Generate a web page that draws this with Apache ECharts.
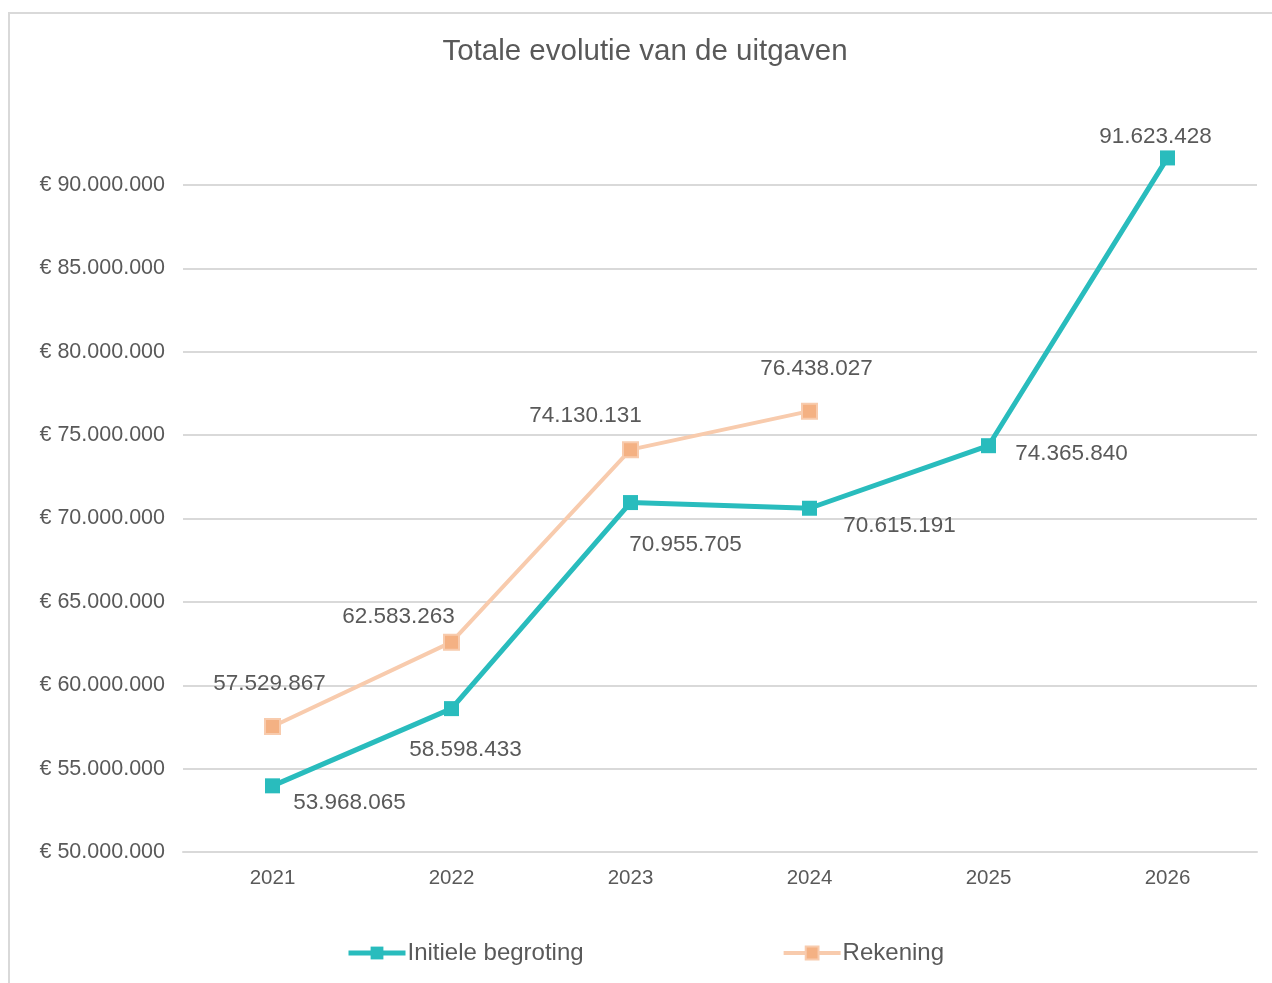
<!DOCTYPE html>
<html>
<head>
<meta charset="utf-8">
<script src="https://cdn.jsdelivr.net/npm/echarts@6/dist/echarts.min.js"></script>
<style>
  html, body { margin: 0; padding: 0; background: #fff; }
  #chart { width: 1272px; height: 983px; }
</style>
</head>
<body>
<div id="chart"></div>
<script>
// data
const years = ["2021", "2022", "2023", "2024", "2025", "2026"];
const initieleBegroting = [53968065, 58598433, 70955705, 70615191, 74365840, 91623428];
const rekening = [57529867, 62583263, 74130131, 76438027];
const yTicks = [50000000, 55000000, 60000000, 65000000, 70000000, 75000000, 80000000, 85000000, 90000000];

// label placement (pixels from the marker centre)
const tealOffsets = [[77, 17], [14, 41], [55, 42], [90, 18], [83, 8], [-12, -21]];
const peachOffsets = [[-3, -43], [-53, -25], [-45, -34], [7, -42]];

const fmt = v => Math.round(v).toString().replace(/\B(?=(\d{3})+(?!\d))/g, ".");

const TEAL = "#29bcbd";
const PEACH_LINE = "#f8cbad";
const PEACH_MARK = "#f4b183";
const TEXT = "#595959";
const FONT = "Liberation Sans, Arial, sans-serif";

function withLabels(values, offsets) {
  return values.map((v, i) => ({
    value: v,
    label: { offset: offsets[i] }
  }));
}

const chart = echarts.init(document.getElementById("chart"));
chart.setOption({
  animation: false,
  textStyle: { fontFamily: FONT },
  graphic: [{
    type: "rect",
    shape: { x: 9, y: 13, width: 1400, height: 1100 },
    style: { fill: null, stroke: "#d9d9d9", lineWidth: 2 },
    silent: true,
    z: -10
  }],
  title: {
    text: "Totale evolutie van de uitgaven",
    left: 640,
    textAlign: "center",
    top: 32,
    textStyle: { color: TEXT, fontSize: 29.5, fontWeight: "normal", fontFamily: FONT }
  },
  legend: {
    bottom: 18,
    left: 346,
    padding: 0,
    itemWidth: 57,
    itemHeight: 16,
    itemGap: 198,
    textStyle: { color: TEXT, fontSize: 24, fontFamily: FONT, padding: [0, 0, 0, -3] },
    data: [
      { name: "Initiele begroting", lineStyle: { width: 5, color: TEAL } },
      { name: "Rekening", lineStyle: { width: 4, color: PEACH_LINE } }
    ]
  },
  grid: { left: 183, right: 15, top: 185, bottom: 131, containLabel: false },
  xAxis: {
    type: "category",
    data: years,
    boundaryGap: true,
    axisLine: { show: true, lineStyle: { color: "#d9d9d9", width: 2 } },
    axisTick: { show: false },
    axisLabel: { color: TEXT, fontSize: 20.5, margin: 16 }
  },
  yAxis: {
    type: "value",
    min: yTicks[0],
    max: yTicks[yTicks.length - 1],
    interval: yTicks[1] - yTicks[0],
    axisLine: { show: false },
    axisTick: { show: false },
    axisLabel: { color: TEXT, fontSize: 21.5, margin: 18, formatter: v => "€ " + fmt(v) },
    splitLine: { lineStyle: { color: "#d9d9d9", width: 2 } }
  },
  series: [
    {
      name: "Initiele begroting",
      type: "line",
      data: withLabels(initieleBegroting, tealOffsets),
      clip: false,
      symbol: "rect",
      symbolSize: 15,
      lineStyle: { color: TEAL, width: 5 },
      itemStyle: { color: TEAL },
      label: {
        show: true,
        position: "inside",
        color: TEXT,
        fontSize: 22.5,
        formatter: p => fmt(p.value)
      },
      z: 3
    },
    {
      name: "Rekening",
      type: "line",
      data: withLabels(rekening, peachOffsets),
      clip: false,
      symbol: "rect",
      symbolSize: 15,
      lineStyle: { color: PEACH_LINE, width: 4 },
      itemStyle: { color: PEACH_MARK, borderColor: PEACH_LINE, borderWidth: 2 },
      label: {
        show: true,
        position: "inside",
        color: TEXT,
        fontSize: 22.5,
        formatter: p => fmt(p.value)
      },
      z: 2
    }
  ]
});
</script>
</body>
</html>
